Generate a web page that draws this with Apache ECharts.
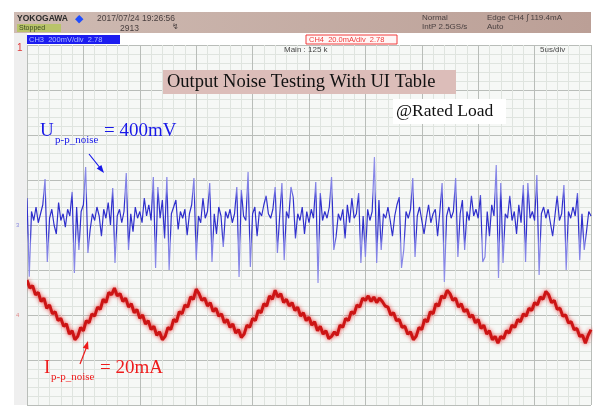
<!DOCTYPE html>
<html>
<head>
<meta charset="utf-8">
<script src="https://cdn.jsdelivr.net/npm/echarts@6/dist/echarts.min.js"></script>
<style>
html,body{margin:0;padding:0;background:#ffffff;}
#chart{width:596px;height:413px;}
</style>
</head>
<body>
<div id="chart"></div>
<script>
// Oscilloscope time base: 5 us/div, 10 divisions
const timeTicksUs = [0, 5, 10, 15, 20, 25, 30, 35, 40, 45, 50];
const BLUE_DT_US = 0.2;   // sample interval of the CH3 trace read-off
const RED_DT_US = 0.25;   // sample interval of the CH4 trace read-off

// CH3 output voltage noise (mV), 200 mV/div
const ch3NoiseMv = [
  120, -230, 60, 20, 80, 10, 50, 90, 204, -164,
  30, 70, 0, -40, 100, 20, 50, -10, 70, 40,
  147, -213, 80, -111, 60, 90, 258, -124, -20, 50,
  20, 80, 40, -50, 70, 30, 100, 0, 164, -169,
  40, 70, 10, 60, 231, -111, 50, -30, 80, 30,
  60, 10, 120, 40, 90, 20, 213, -191, 169, 30,
  111, -60, 213, -200, 50, 80, 111, -20, 60, 30,
  70, -45, 50, 90, 209, -156, 40, 10, 120, 30,
  60, 187, -164, 50, -40, 80, 40, -98, 60, 30,
  70, 10, 50, 169, -231, 156, 40, 20, 236, -187,
  50, 80, -50, 60, 40, 90, 130, 50, 30, 70,
  169, -124, 40, 187, -156, 60, 30, 169, 124, -60,
  50, 20, 80, -40, 60, 10, 70, 30, 191, -258,
  142, 20, 60, 30, 80, 213, -111, -53, 50, 20,
  70, -60, 90, 10, 120, 30, 50, 142, -169, 40,
  -142, 70, 20, 60, 302, -169, 111, -111, 50, 30,
  80, 20, -50, 40, 90, 124, -191, -111, 60, 30,
  70, 209, -142, 40, 80, 20, -40, 30, 90, 10,
  50, 70, -50, 60, 187, -253, 40, 80, 30, 60,
  209, -142, 50, 111, -111, 60, 20, 130, 40, 70,
  30, 133, -164, -142, 60, -50, 90, 40, 267, -236,
  187, -169, 50, 30, 130, 20, 60, -40, 90, 10,
  178, -164, 187, 30, 60, 20, 222, -222, 50, 80,
  30, 70, 10, -50, 40, 130, 20, 50, 178, -200,
  60, 30, 80, 40, 142, -156, 50, -111, -30, 60,
  40
];

// CH4 output current ripple (mA), 20 mA/div
const ch4CurrentMa = [
  15.5, 12, 13, 9, 10, 6, 7.5, 3, 4.5, 0.5, 1.5, -2.5, -1.5, -5, -4, -8.5, -7, -11,
  -9.5, -5.5, -7, -2.5, -3.5, 0.5, -0.5, 3.5, 2.5, 7, 5.5, 10, 9, 12,
  8.5, 9.5, 6, 7.5, 3.5, 5, 1, 2.5, -1.5, 0, -4, -2.5, -6.5, -5, -9, -7.5, -11,
  -9.5, -5.5, -6.5, -2, -3, 1.5, 0.5, 4.5, 3.5, 8, 7, 11.5,
  9.5, 6.5, 7.5, 4, 5.5, 1.5, 3, -0.5, 0.5, -3.5, -2, -5.5, -4, -8, -6.5, -10,
  -8.5, -4.5, -5.5, -1.5, -2.5, 2, 1, 5, 4, 8.5, 7, 11,
  8, 9.5, 5.5, 7, 4, 5.5, 2, 3.5, -0.5, 1, -2.5, -1, -4.5, -3, -7, -5, -8.5, -7, -10.5, -9.5,
  -7.5, -9, -4.5, -5.5, -1.5, -2.5, 1.5, 0.5, 4.5, 3.5, 7.5, 6.5,
  8.5, 6, 8, 5.5, 7.5, 6,
  4, 3.5, 0, 1, -2.5, -2, -5.5, -5, -8.5, -7.5, -11,
  -9.5, -5.5, -6.5, -2, -3, 1.5, 0.5, 5, 4, 8.5, 7.5, 11,
  9.5, 6.5, 7.5, 3.5, 5, 1.5, 2.5, -1, 0, -3.5, -2, -6, -4.5, -8.5, -7, -11, -9.5, -12.5,
  -9.5, -10.5, -7, -8, -4.5, -5.5, -2, -3, 0.5, -0.5, 3, 2, 5.5, 4.5, 8, 7, 10.5,
  9, 5.5, 6.5, 2.5, 3, -0.5, 0, -3.5, -3, -6.5, -6, -9.5, -9, -12.5,
  -9, -6.5
];

const ch3Range = [-800, 800];   // mV, 8 div x 200 mV
const ch4Range = [-40, 120];    // mA, 8 div x 20 mA

const headerLeft = ['YOKOGAWA', '2017/07/24 19:26:56', '2913'];
const headerRight = ['Normal', 'IntP 2.5GS/s', 'Edge CH4 \u222B 119.4mA', 'Auto'];
const ch3Label = 'CH3  200mV/div  2.78';
const ch4Label = 'CH4  20.0mA/div  2.78';
const titleText = 'Output Noise Testing With UI Table';
const loadText = '@Rated Load';

const chart = echarts.init(document.getElementById('chart'), null, {renderer: 'canvas'});

const serif = '"Liberation Serif", "Times New Roman", serif';
const sans = '"Liberation Sans", Arial, sans-serif';

function txt(x, y, text, size, color, opts) {
  return Object.assign({
    type: 'text', z: 100,
    style: Object.assign({
      text: text, x: x, y: y, fontSize: size, fontFamily: sans, fill: color,
      align: 'left', verticalAlign: 'top'
    }, (opts && opts.style) || {})
  }, (opts && opts.el) || {});
}

const blueGrad = new echarts.graphic.LinearGradient(0, 0, 0, 1, [
  {offset: 0, color: '#9494ea'},
  {offset: 0.28, color: '#7c7ce4'},
  {offset: 0.36, color: '#2f2fcc'},
  {offset: 0.6, color: '#2f2fcc'},
  {offset: 0.68, color: '#7c7ce4'},
  {offset: 1, color: '#9494ea'}
]);

const option = {
  backgroundColor: '#ffffff',
  animation: false,
  grid: {
    left: 27, top: 45, width: 564, height: 360,
    show: true, backgroundColor: '#f6f8f6', borderWidth: 0
  },
  xAxis: {
    type: 'value', min: timeTicksUs[0], max: timeTicksUs[timeTicksUs.length - 1], interval: 5,
    axisLabel: {show: false}, axisTick: {show: false}, axisLine: {show: false},
    splitLine: {show: true, lineStyle: {color: '#b9bdb9', width: 1}},
    minorTick: {show: false, splitNumber: 5},
    minorSplitLine: {show: true, lineStyle: {color: '#dfe4df', width: 1}}
  },
  yAxis: [
    {
      type: 'value', min: ch3Range[0], max: ch3Range[1], interval: 200,
      axisLabel: {show: false}, axisTick: {show: false}, axisLine: {show: false},
      splitLine: {show: true, lineStyle: {color: '#b9bdb9', width: 1}},
      minorTick: {show: false, splitNumber: 5},
      minorSplitLine: {show: true, lineStyle: {color: '#dfe4df', width: 1}}
    },
    {
      type: 'value', min: ch4Range[0], max: ch4Range[1], interval: 20,
      axisLabel: {show: false}, axisTick: {show: false}, axisLine: {show: false},
      splitLine: {show: false}
    }
  ],
  series: [
    {
      name: 'CH3', type: 'line', yAxisIndex: 0, showSymbol: false, silent: true,
      data: ch3NoiseMv.map((v, i) => [i * BLUE_DT_US, v]),
      lineStyle: {color: blueGrad, width: 1.2}, z: 3
    },
    {
      name: 'CH4', type: 'line', yAxisIndex: 1, showSymbol: false, silent: true,
      data: ch4CurrentMa.map((v, i) => [i * RED_DT_US, v]),
      lineStyle: {color: '#cc1414', width: 3, shadowBlur: 4, shadowColor: 'rgba(235,30,30,0.85)'}, z: 4
    }
  ],
  graphic: [
    // header bar
    {type: 'rect', z: 90, shape: {x: 14, y: 12, width: 577, height: 21},
      style: {fill: new echarts.graphic.LinearGradient(0, 0, 1, 0, [
        {offset: 0, color: '#cfbbb3'}, {offset: 1, color: '#bb9f96'}])}},
    {type: 'rect', z: 90, shape: {x: 14, y: 33, width: 13, height: 372}, style: {fill: '#efefef'}},
    txt(17, 14, headerLeft[0], 8.5, '#2b2b2b', {style: {fontWeight: 'bold', fontFamily: sans}}),
    txt(75, 13, '\u25C6', 11, '#1f4cff'),
    txt(97, 14, headerLeft[1], 8.5, '#4a4040'),
    {type: 'rect', z: 95, shape: {x: 17, y: 24, width: 44, height: 8}, style: {fill: '#b9c46a'}},
    txt(19, 24.5, 'Stopped', 7, '#3a4a20'),
    txt(120, 24, headerLeft[2], 8.5, '#4a4040'),
    txt(172, 23, '\u21AF', 8, '#4a4040'),
    txt(422, 14, headerRight[0], 8, '#4a4040'),
    txt(422, 23, headerRight[1], 8, '#4a4040'),
    txt(487, 14, headerRight[2], 8, '#4a4040'),
    txt(487, 23, headerRight[3], 8, '#4a4040'),
    // channel boxes
    {type: 'rect', z: 95, shape: {x: 27, y: 35, width: 93, height: 9}, style: {fill: '#1c1cf0'}},
    txt(29, 35.5, ch3Label, 7.5, '#aebcff'),
    {type: 'rect', z: 95, shape: {x: 306, y: 35, width: 91, height: 9}, style: {fill: '#fff6f6', stroke: '#f03a3a', lineWidth: 1}},
    txt(309, 35.5, ch4Label, 7.5, '#f03a3a'),
    txt(284, 46, 'Main : 125 k', 8, '#4a4a4a'),
    txt(540, 46, '5us/div', 8, '#4a4a4a'),
    txt(17, 43, '1', 10, '#e03a3a'),
    txt(16, 222, '3', 6, '#8a8ae0'),
    txt(16, 312, '4', 6, '#e08a8a'),
    // title
    {type: 'rect', z: 96, shape: {x: 163, y: 70, width: 293, height: 24}, style: {fill: '#dcbdb9'}},
    txt(167, 73, titleText, 18.5, '#111111', {style: {fontFamily: serif}}),
    {type: 'rect', z: 96, shape: {x: 393, y: 99, width: 113, height: 25}, style: {fill: '#ffffff'}},
    txt(396, 102, loadText, 17.5, '#111111', {style: {fontFamily: serif}}),
    // voltage annotation
    txt(40, 122, 'U', 19, '#1818e8', {style: {fontFamily: serif}}),
    txt(55, 135, 'p-p_noise', 11, '#1818e8', {style: {fontFamily: serif}}),
    txt(104, 122, '= 400mV', 19, '#1818e8', {style: {fontFamily: serif}}),
    {type: 'line', z: 100, shape: {x1: 89, y1: 154, x2: 101, y2: 169}, style: {stroke: '#1818e8', lineWidth: 1.2}},
    {type: 'polygon', z: 100, shape: {points: [[104, 173], [96.7, 168.6], [101.4, 164.9]]}, style: {fill: '#1818e8'}},
    // current annotation
    txt(44, 359, 'I', 19, '#ee1c1c', {style: {fontFamily: serif}}),
    txt(51, 372, 'p-p_noise', 11, '#ee1c1c', {style: {fontFamily: serif}}),
    txt(100, 359, '= 20mA', 19, '#ee1c1c', {style: {fontFamily: serif}}),
    {type: 'line', z: 100, shape: {x1: 80, y1: 364, x2: 87, y2: 346}, style: {stroke: '#ee1c1c', lineWidth: 1.2}},
    {type: 'polygon', z: 100, shape: {points: [[88, 341], [88.5, 349.6], [82.8, 347.8]]}, style: {fill: '#ee1c1c'}}
  ]
};

chart.setOption(option);
</script>
</body>
</html>
